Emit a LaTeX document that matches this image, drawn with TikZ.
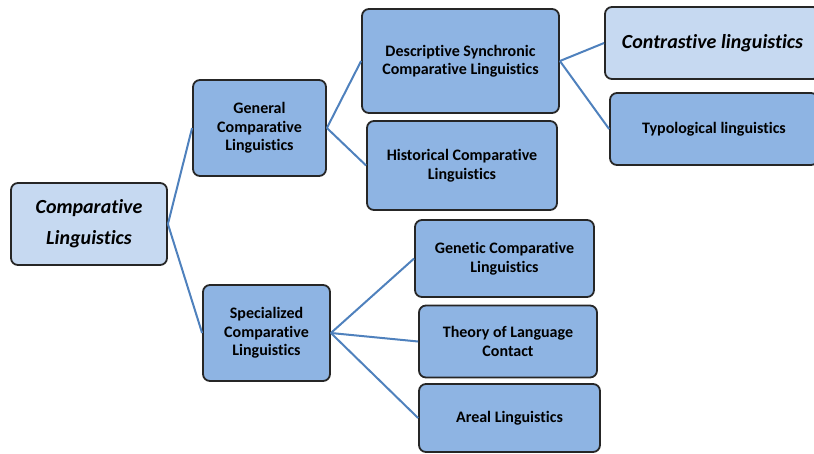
\documentclass[tikz,border=0pt]{standalone}
\usepackage{fontspec}
\setmainfont{Carlito}[Ligatures=NoCommon]
\definecolor{dkfill}{HTML}{8EB4E3}
\definecolor{ltfill}{HTML}{C6D9F1}
\definecolor{conn}{HTML}{4F81BD}
\tikzset{
  box/.style={draw=black!85, line width=1.8pt, rounded corners=7pt, fill=dkfill,
    align=center, inner sep=0pt, font=\fontsize{16}{18.5}\selectfont\bfseries},
  lightbox/.style={box, fill=ltfill, font=\fontsize{20}{31}\selectfont\bfseries\itshape},
  link/.style={draw=conn, line width=2pt}
}
\begin{document}
\begin{tikzpicture}[x=1pt,y=-1pt]
\useasboundingbox (0,0) rectangle (814,453);
\clip (0,0) rectangle (814,453);
\node[lightbox, minimum width=156pt, minimum height=82pt] (root) at (89,224) {Comparative\\Linguistics};
\node[box, minimum width=133pt, minimum height=96pt] (gen) at (259.5,128) {General\\Comparative\\Linguistics};
\node[box, minimum width=127pt, minimum height=96pt] (spec) at (266.5,333) {Specialized\\Comparative\\Linguistics};
\node[box, minimum width=197pt, minimum height=104pt] (desc) at (460.5,61) {Descriptive Synchronic\\Comparative Linguistics};
\node[box, minimum width=190pt, minimum height=89pt] (hist) at (462,165.5) {Historical Comparative\\Linguistics};
\node[lightbox, minimum width=215pt, minimum height=72pt] (contr) at (712.5,43) {Contrastive linguistics};
\node[box, minimum width=208pt, minimum height=72pt] (typo) at (714,129) {Typological linguistics};
\node[box, minimum width=179pt, minimum height=77pt] (genet) at (504.5,258.5) {Genetic Comparative\\Linguistics};
\node[box, minimum width=178pt, minimum height=72pt] (theory) at (508,341.5) {Theory of Language\\Contact};
\node[box, minimum width=181pt, minimum height=68pt] (areal) at (509.5,418) {Areal Linguistics};
\draw[link] (root.east) -- (gen.west);
\draw[link] (root.east) -- (spec.west);
\draw[link] (gen.east) -- (desc.west);
\draw[link] (gen.east) -- (hist.west);
\draw[link] (desc.east) -- (contr.west);
\draw[link] (desc.east) -- (typo.west);
\draw[link] (spec.east) -- (genet.west);
\draw[link] (spec.east) -- (theory.west);
\draw[link] (spec.east) -- (areal.west);
\end{tikzpicture}
\end{document}
